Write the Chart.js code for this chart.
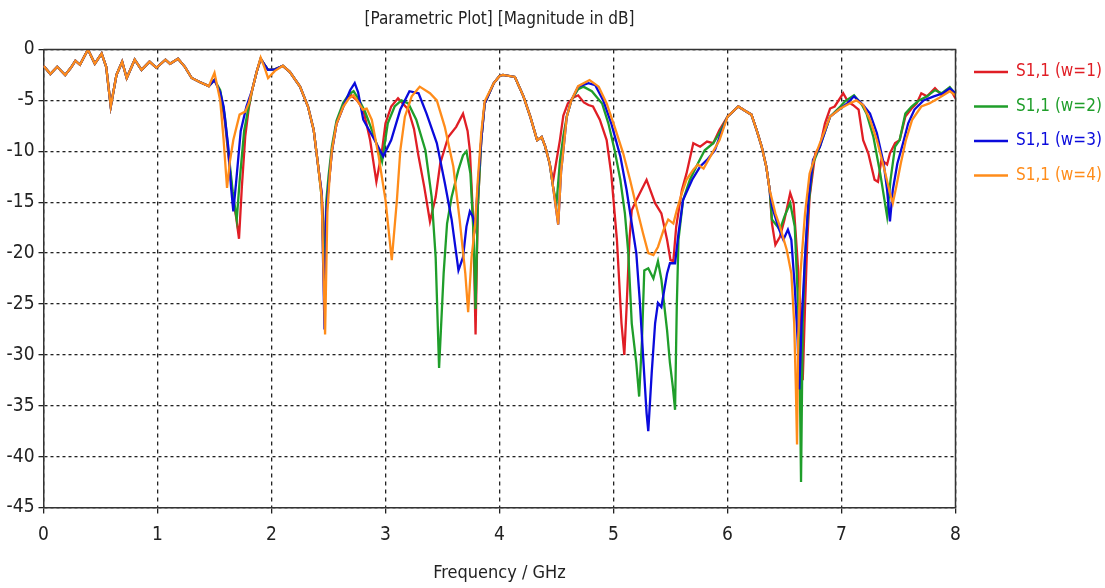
<!DOCTYPE html>
<html>
<head>
<meta charset="utf-8">
<script src="https://cdn.jsdelivr.net/npm/chart.js@4/dist/chart.umd.min.js"></script>
<style>
  html, body { margin: 0; padding: 0; background: #fff; }
  #wrap { width: 1105px; height: 588px; }
</style>
</head>
<body>
<div id="wrap"><canvas id="chart" width="1105" height="588"></canvas></div>
<script>
// shared low band, all four curves coincide here
var freqHead = [0, 0.06, 0.12, 0.19, 0.24, 0.28, 0.32, 0.39, 0.45, 0.51, 0.55, 0.59, 0.64, 0.69, 0.73, 0.80, 0.86, 0.93, 0.99, 1.07, 1.11, 1.18, 1.24, 1.30, 1.37, 1.45];
var dbHead   = [-1.6, -2.4, -1.7, -2.5, -1.8, -1.1, -1.5, 0, -1.4, -0.4, -1.7, -5.6, -2.5, -1.2, -2.8, -1.0, -2.0, -1.2, -1.8, -1.0, -1.4, -0.9, -1.7, -2.8, -3.2, -3.6];

var freqW1 = [1.50, 1.55, 1.59, 1.62, 1.66, 1.69, 1.715, 1.74, 1.77, 1.80, 1.83, 1.87, 1.905, 1.94, 1.97, 2.03, 2.10, 2.16, 2.25, 2.32, 2.37, 2.41, 2.44, 2.455, 2.465, 2.48, 2.50, 2.53, 2.57, 2.63, 2.67, 2.70, 2.75, 2.805, 2.865, 2.92, 2.97, 3.0, 3.05, 3.11, 3.20, 3.25, 3.29, 3.34, 3.39, 3.44, 3.48, 3.55, 3.62, 3.68, 3.72, 3.74, 3.77, 3.79, 3.81, 3.84, 3.87, 3.95, 4.0, 4.03, 4.135, 4.21, 4.27, 4.33, 4.37, 4.40, 4.44, 4.47, 4.53, 4.56, 4.60, 4.65, 4.69, 4.74, 4.78, 4.82, 4.88, 4.94, 4.98, 5.03, 5.07, 5.095, 5.115, 5.14, 5.16, 5.20, 5.29, 5.365, 5.42, 5.47, 5.50, 5.525, 5.55, 5.60, 5.64, 5.70, 5.76, 5.82, 5.875, 5.93, 6.0, 6.095, 6.15, 6.21, 6.255, 6.30, 6.34, 6.37, 6.39, 6.42, 6.46, 6.50, 6.55, 6.58, 6.61, 6.64, 6.66, 6.68, 6.70, 6.72, 6.77, 6.81, 6.855, 6.90, 6.94, 7.015, 7.055, 7.10, 7.15, 7.19, 7.235, 7.29, 7.32, 7.35, 7.40, 7.425, 7.47, 7.51, 7.56, 7.615, 7.66, 7.70, 7.75, 7.82, 7.88, 7.95, 8.0];
var dbW1   = [-3.0, -4.2, -7.0, -10.2, -14.5, -16.5, -18.6, -13.5, -8.5, -5.8, -4.0, -2.2, -0.9, -1.5, -2.0, -1.95, -1.6, -2.2, -3.65, -5.6, -7.9, -11.5, -14.1, -17.0, -25.0, -16.0, -13.5, -9.9, -7.3, -5.6, -4.8, -4.5, -5.0, -5.9, -8.9, -13.0, -9.9, -7.25, -5.6, -4.8, -5.9, -7.8, -10.5, -13.5, -16.9, -14.5, -11.2, -8.6, -7.6, -6.3, -8.0, -9.9, -17.0, -28.0, -15.4, -8.9, -5.3, -3.3, -2.6, -2.5, -2.7, -4.6, -6.6, -8.9, -8.6, -9.5, -11.2, -12.9, -8.9, -6.5, -5.3, -4.7, -4.5, -5.2, -5.45, -5.6, -6.9, -8.9, -12.2, -18.7, -26.9, -30.0, -25.3, -18.7, -15.8, -14.8, -12.8, -15.1, -16.1, -18.7, -20.7, -20.8, -17.4, -13.8, -12.2, -9.2, -9.55, -9.05, -9.2, -7.9, -6.6, -5.6, -6.0, -6.4, -7.9, -9.55, -11.5, -13.8, -17.1, -19.2, -18.4, -16.7, -14.1, -15.1, -20.0, -25.3, -32.5, -25.3, -18.7, -14.5, -10.2, -9.55, -7.25, -5.8, -5.6, -4.3, -5.1, -5.45, -5.9, -8.9, -10.2, -12.8, -13.0, -10.85, -11.3, -10.2, -9.2, -8.9, -6.6, -5.8, -5.3, -4.3, -4.6, -3.8, -4.5, -3.8, -4.8];

var freqW2 = [1.50, 1.55, 1.59, 1.62, 1.66, 1.695, 1.72, 1.76, 1.80, 1.83, 1.87, 1.905, 1.94, 1.97, 2.03, 2.10, 2.16, 2.25, 2.32, 2.37, 2.41, 2.44, 2.465, 2.48, 2.50, 2.53, 2.57, 2.63, 2.68, 2.72, 2.77, 2.82, 2.89, 2.95, 2.97, 3.02, 3.08, 3.14, 3.20, 3.27, 3.35, 3.405, 3.44, 3.47, 3.51, 3.54, 3.58, 3.64, 3.68, 3.71, 3.745, 3.775, 3.79, 3.81, 3.84, 3.87, 3.95, 4.0, 4.03, 4.135, 4.21, 4.27, 4.33, 4.37, 4.40, 4.44, 4.47, 4.50, 4.53, 4.56, 4.59, 4.63, 4.69, 4.735, 4.81, 4.90, 4.955, 5.01, 5.06, 5.10, 5.13, 5.16, 5.20, 5.225, 5.25, 5.27, 5.305, 5.35, 5.39, 5.42, 5.47, 5.495, 5.52, 5.54, 5.555, 5.57, 5.61, 5.67, 5.74, 5.80, 5.875, 5.93, 6.0, 6.095, 6.15, 6.21, 6.255, 6.30, 6.34, 6.37, 6.39, 6.46, 6.50, 6.55, 6.59, 6.62, 6.635, 6.645, 6.66, 6.68, 6.71, 6.75, 6.81, 6.90, 6.99, 7.03, 7.11, 7.18, 7.22, 7.28, 7.34, 7.40, 7.43, 7.47, 7.51, 7.56, 7.615, 7.68, 7.75, 7.82, 7.88, 7.95, 8.0];
var dbW2   = [-3.0, -4.0, -6.5, -9.8, -14.0, -16.7, -13.0, -8.0, -5.6, -4.0, -2.2, -0.9, -1.5, -2.0, -1.95, -1.6, -2.2, -3.65, -5.6, -7.9, -11.5, -14.5, -23.0, -15.0, -12.5, -9.5, -7.0, -5.2, -4.4, -4.1, -5.0, -6.1, -8.2, -10.2, -11.0, -7.25, -5.6, -5.0, -5.3, -6.9, -9.9, -14.5, -20.4, -31.3, -22.0, -17.1, -14.5, -11.8, -10.4, -10.0, -12.2, -18.7, -25.5, -15.4, -8.9, -5.3, -3.3, -2.6, -2.5, -2.7, -4.6, -6.6, -8.9, -8.6, -9.5, -11.2, -13.5, -15.1, -11.0, -8.5, -6.6, -5.0, -3.9, -3.65, -4.1, -5.3, -7.25, -9.9, -12.8, -16.1, -20.0, -26.9, -30.8, -34.1, -28.5, -21.7, -21.5, -22.5, -20.8, -22.6, -27.6, -30.8, -33.1, -35.4, -25.3, -18.7, -14.8, -12.8, -11.2, -9.9, -9.2, -8.2, -6.6, -5.6, -6.0, -6.4, -7.9, -9.55, -11.5, -13.8, -16.7, -17.7, -16.4, -15.1, -17.4, -25.3, -33.0, -42.5, -26.9, -20.4, -15.4, -11.2, -9.55, -6.6, -5.6, -5.1, -4.5, -5.45, -6.3, -8.6, -12.2, -16.4, -12.8, -9.55, -8.9, -6.3, -5.6, -5.0, -4.6, -4.0, -4.3, -3.7, -4.4];

var freqW3 = [1.50, 1.55, 1.58, 1.62, 1.645, 1.665, 1.69, 1.73, 1.78, 1.83, 1.87, 1.905, 1.94, 1.97, 2.03, 2.10, 2.16, 2.25, 2.32, 2.37, 2.41, 2.44, 2.465, 2.48, 2.50, 2.53, 2.57, 2.63, 2.69, 2.73, 2.76, 2.805, 2.89, 2.98, 3.05, 3.13, 3.21, 3.29, 3.36, 3.45, 3.52, 3.58, 3.64, 3.68, 3.71, 3.74, 3.765, 3.785, 3.81, 3.84, 3.87, 3.95, 4.0, 4.03, 4.135, 4.21, 4.27, 4.33, 4.37, 4.40, 4.44, 4.47, 4.515, 4.54, 4.56, 4.59, 4.63, 4.69, 4.78, 4.84, 4.91, 4.98, 5.06, 5.115, 5.16, 5.20, 5.23, 5.26, 5.29, 5.305, 5.335, 5.365, 5.39, 5.42, 5.47, 5.495, 5.54, 5.57, 5.61, 5.69, 5.76, 5.82, 5.89, 5.93, 6.0, 6.095, 6.15, 6.21, 6.255, 6.30, 6.34, 6.37, 6.39, 6.45, 6.49, 6.53, 6.56, 6.59, 6.615, 6.63, 6.65, 6.68, 6.71, 6.75, 6.81, 6.90, 6.99, 7.05, 7.11, 7.19, 7.25, 7.31, 7.37, 7.40, 7.425, 7.45, 7.49, 7.54, 7.585, 7.64, 7.72, 7.81, 7.89, 7.95, 8.0];
var dbW3   = [-3.0, -4.2, -5.6, -9.5, -13.5, -15.9, -13.0, -8.0, -5.6, -4.0, -2.2, -0.9, -1.5, -2.0, -1.95, -1.6, -2.2, -3.65, -5.6, -7.9, -11.5, -14.1, -27.5, -16.0, -13.5, -10.0, -7.3, -5.6, -4.0, -3.3, -4.2, -6.9, -8.6, -10.5, -8.9, -5.9, -4.1, -4.3, -6.3, -9.2, -13.1, -16.7, -21.7, -20.4, -17.4, -15.9, -16.4, -17.4, -13.5, -8.9, -5.3, -3.3, -2.6, -2.5, -2.7, -4.6, -6.6, -8.9, -8.6, -9.5, -11.2, -13.5, -17.2, -12.0, -9.9, -6.6, -5.0, -3.65, -3.3, -3.5, -5.0, -7.25, -10.5, -13.8, -17.1, -20.0, -24.6, -30.2, -35.7, -37.5, -31.8, -26.9, -24.9, -25.3, -22.0, -21.0, -21.0, -18.1, -14.8, -12.8, -11.5, -10.85, -9.9, -8.6, -6.6, -5.6, -6.0, -6.4, -7.9, -9.55, -11.5, -13.8, -15.4, -17.6, -18.7, -17.7, -18.7, -23.3, -28.5, -33.4, -26.9, -20.4, -14.8, -10.85, -9.55, -6.6, -5.8, -5.3, -4.6, -5.45, -6.3, -8.2, -11.2, -13.8, -16.9, -13.8, -11.2, -9.2, -7.25, -5.9, -5.0, -4.6, -4.3, -3.8, -4.3];

var freqW4 = [1.50, 1.55, 1.58, 1.61, 1.635, 1.665, 1.72, 1.77, 1.80, 1.83, 1.87, 1.905, 1.94, 1.97, 2.03, 2.10, 2.16, 2.25, 2.32, 2.37, 2.41, 2.44, 2.47, 2.49, 2.51, 2.53, 2.57, 2.63, 2.68, 2.72, 2.77, 2.80, 2.835, 2.88, 2.94, 3.0, 3.055, 3.10, 3.13, 3.17, 3.23, 3.30, 3.39, 3.45, 3.52, 3.595, 3.65, 3.70, 3.725, 3.755, 3.785, 3.81, 3.84, 3.87, 3.95, 4.0, 4.03, 4.135, 4.21, 4.27, 4.33, 4.37, 4.40, 4.44, 4.47, 4.515, 4.54, 4.56, 4.59, 4.63, 4.69, 4.79, 4.87, 4.94, 5.01, 5.085, 5.145, 5.20, 5.26, 5.305, 5.35, 5.39, 5.44, 5.48, 5.525, 5.555, 5.60, 5.64, 5.70, 5.74, 5.79, 5.85, 5.93, 6.0, 6.095, 6.15, 6.21, 6.255, 6.30, 6.34, 6.37, 6.42, 6.46, 6.52, 6.56, 6.585, 6.60, 6.61, 6.62, 6.64, 6.68, 6.72, 6.77, 6.90, 6.99, 7.07, 7.13, 7.19, 7.25, 7.31, 7.37, 7.425, 7.45, 7.48, 7.52, 7.565, 7.62, 7.70, 7.77, 7.85, 7.95, 8.0];
var dbW4   = [-2.3, -5.0, -8.9, -13.6, -11.0, -8.9, -6.4, -6.1, -5.3, -4.0, -2.2, -0.8, -1.8, -2.8, -2.1, -1.6, -2.2, -3.65, -5.6, -7.9, -11.5, -14.5, -28.0, -16.0, -12.5, -9.9, -7.3, -5.6, -4.8, -4.5, -5.3, -5.9, -5.8, -6.9, -10.5, -14.8, -20.7, -14.8, -9.9, -6.6, -4.6, -3.65, -4.3, -5.0, -7.6, -11.5, -16.7, -22.0, -25.8, -20.4, -17.4, -12.8, -8.2, -5.1, -3.3, -2.6, -2.5, -2.7, -4.6, -6.6, -8.9, -8.6, -9.5, -11.2, -13.5, -17.2, -12.0, -9.9, -6.6, -5.0, -3.6, -3.0, -3.65, -5.3, -7.6, -10.2, -12.8, -15.4, -18.1, -20.0, -20.2, -19.4, -17.7, -16.7, -17.1, -15.8, -14.1, -12.8, -11.8, -11.3, -11.7, -10.5, -8.9, -6.6, -5.6, -6.0, -6.4, -7.9, -9.55, -11.5, -13.8, -16.1, -17.4, -19.7, -22.0, -26.9, -33.4, -38.8, -28.5, -22.0, -16.1, -12.2, -10.4, -6.6, -5.8, -5.3, -5.0, -5.45, -6.9, -8.9, -11.5, -14.1, -15.1, -13.5, -11.2, -8.9, -6.9, -5.6, -5.3, -4.8, -4.1, -4.5];

var seriesLabels = ['S1,1 (w=1)', 'S1,1 (w=2)', 'S1,1 (w=3)', 'S1,1 (w=4)'];
var seriesColors = ['#e01e25', '#1f9e2a', '#0a0adc', '#ff8c1a'];
var xTicks = [0, 1, 2, 3, 4, 5, 6, 7, 8];
var yTicks = [0, -5, -10, -15, -20, -25, -30, -35, -40, -45];

var FONT = "'Liberation Sans Narrow', 'DejaVu Sans Condensed', 'Roboto', sans-serif";

function toPoints(freq, db) {
  var head = freqHead.map(function(f, i) { return { x: f, y: dbHead[i] }; });
  return head.concat(freq.map(function(f, i) { return { x: f, y: db[i] }; }));
}

var allFreq = [freqW1, freqW2, freqW3, freqW4];
var allDb = [dbW1, dbW2, dbW3, dbW4];

var datasets = seriesLabels.map(function(label, i) {
  return {
    label: label,
    data: toPoints(allFreq[i], allDb[i]),
    borderColor: seriesColors[i],
    backgroundColor: seriesColors[i],
    borderWidth: 2.3,
    pointRadius: 0,
    tension: 0,
    order: 4 - i   // orange ends up on top, like the original
  };
});

var decorations = {
  id: 'decorations',
  beforeDraw: function(chart) {
    var ctx = chart.ctx;
    ctx.save();
    ctx.fillStyle = '#fff';
    ctx.fillRect(0, 0, chart.width, chart.height);
    ctx.restore();
  },
  afterDraw: function(chart) {
    var ctx = chart.ctx, a = chart.chartArea;
    ctx.save();
    // frame on top and right
    ctx.strokeStyle = '#333';
    ctx.lineWidth = 1.5;
    ctx.beginPath();
    ctx.moveTo(a.left, a.top);
    ctx.lineTo(a.right, a.top);
    ctx.lineTo(a.right, a.bottom);
    ctx.stroke();

    // title
    ctx.fillStyle = '#222';
    ctx.font = '17px ' + FONT;
    ctx.textAlign = 'center';
    ctx.textBaseline = 'middle';
    ctx.fillText('[Parametric Plot] [Magnitude in dB]', (a.left + a.right) / 2, 20);

    // legend
    ctx.textAlign = 'left';
    ctx.font = '17px ' + FONT;
    seriesLabels.forEach(function(label, i) {
      var y = 72 + i * 34.5;
      ctx.strokeStyle = seriesColors[i];
      ctx.lineWidth = 2.5;
      ctx.beginPath();
      ctx.moveTo(974, y);
      ctx.lineTo(1008, y);
      ctx.stroke();
      ctx.fillStyle = seriesColors[i];
      ctx.fillText(label, 1016, y);
    });
    ctx.restore();
  }
};

new Chart(document.getElementById('chart'), {
  type: 'line',
  data: { datasets: datasets },
  options: {
    responsive: false,
    animation: false,
    devicePixelRatio: 1,
    layout: { padding: { top: 49.5, right: 149.5, left: 0, bottom: 0 } },
    plugins: { legend: { display: false }, tooltip: { enabled: false }, title: { display: false } },
    scales: {
      x: {
        type: 'linear',
        min: 0,
        max: 8,
        afterFit: function(scale) { scale.height = 80.5; },
        afterBuildTicks: function(scale) { scale.ticks = xTicks.map(function(v) { return { value: v }; }); },
        ticks: { color: '#222', font: { family: FONT, size: 19 }, padding: 10, maxRotation: 0 },
        grid: { color: '#222', lineWidth: 1.3, tickLength: 6, tickColor: '#222', tickBorderDash: [] },
        border: { color: '#333', width: 1.5, dash: [4, 4] },
        title: { display: true, text: 'Frequency / GHz', color: '#222', font: { family: FONT, size: 18 }, padding: { top: 6, bottom: 4 } }
      },
      y: {
        min: -45,
        max: 0,
        afterFit: function(scale) { scale.width = 43.5; },
        afterBuildTicks: function(scale) { scale.ticks = yTicks.map(function(v) { return { value: v }; }); },
        ticks: { color: '#222', font: { family: FONT, size: 19 }, padding: 4 },
        grid: { color: '#222', lineWidth: 1.3, tickLength: 5, tickColor: '#222', tickBorderDash: [] },
        border: { color: '#333', width: 1.5, dash: [3, 3] }
      }
    }
  },
  plugins: [decorations]
});
</script>
</body>
</html>
